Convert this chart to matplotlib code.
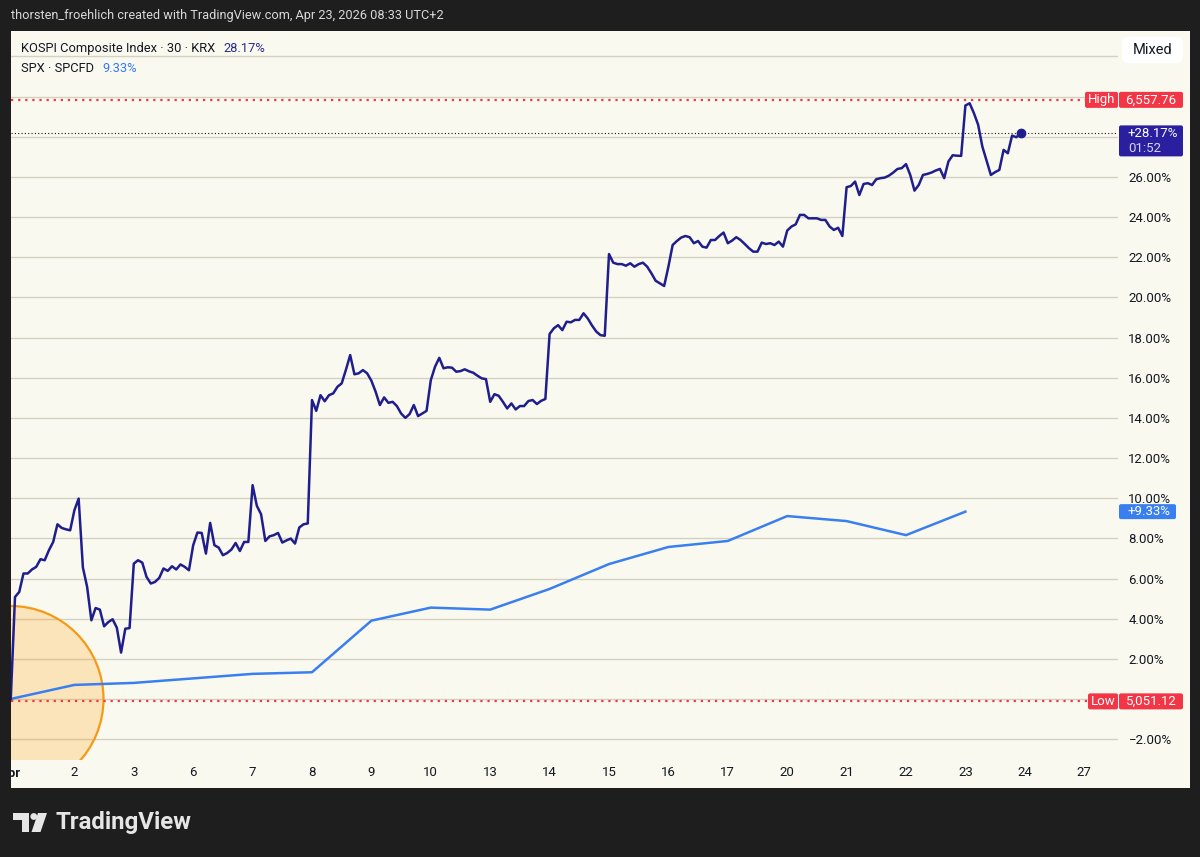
import numpy as np
import matplotlib
matplotlib.use("Agg")
import matplotlib.pyplot as plt
from matplotlib.patches import Rectangle, FancyBboxPatch, Ellipse, Polygon, Circle
from matplotlib.transforms import Bbox, TransformedBbox, offset_copy

W, H = 1200, 857
plt.rcParams['font.family'] = ['Roboto', 'DejaVu Sans']

# ---- data ----
day_labels = ["Apr", "2", "3", "6", "7", "8", "9", "10", "13", "14", "15",
              "16", "17", "20", "21", "22", "23", "24", "27"]
bars_per_day = 14

# KOSPI 30-min closes, % change vs. base (first value = base bar)
kospi_pct = [0.0,
    5.08, 5.33, 6.25, 6.25, 6.45, 6.58, 6.96, 6.91, 7.41, 7.82, 8.70, 8.52, 8.45, 8.40,
    9.40, 9.98, 6.55, 5.58, 3.92, 4.53, 4.45, 3.62, 3.83, 3.97, 3.55, 2.31, 3.50, 3.53,
    6.74, 6.91, 6.79, 6.08, 5.75, 5.83, 6.03, 6.50, 6.38, 6.61, 6.45, 6.70, 6.58, 6.41,
    7.66, 8.29, 8.27, 7.24, 8.77, 7.66, 7.54, 7.16, 7.27, 7.44, 7.77, 7.37, 7.82, 7.82,
    10.65, 9.62, 9.20, 7.87, 8.10, 8.16, 8.27, 7.79, 7.90, 7.99, 7.74, 8.54, 8.70, 8.74,
    14.89, 14.35, 15.13, 14.83, 15.13, 15.22, 15.55, 15.72, 16.40, 17.13, 16.17, 16.22, 16.38, 16.22,
    15.85, 15.30, 14.64, 15.02, 14.75, 14.80, 14.59, 14.22, 14.00, 14.19, 14.64, 14.09, 14.22, 14.35,
    15.88, 16.55, 16.99, 16.47, 16.52, 16.50, 16.30, 16.33, 16.42, 16.32, 16.25, 16.10, 15.97, 15.93,
    14.80, 15.18, 15.10, 14.80, 14.47, 14.72, 14.42, 14.59, 14.59, 14.84, 14.89, 14.69, 14.85, 14.94,
    18.18, 18.46, 18.62, 18.37, 18.79, 18.76, 18.88, 18.88, 19.21, 18.95, 18.60, 18.30, 18.12, 18.09,
    22.16, 21.73, 21.66, 21.66, 21.58, 21.70, 21.53, 21.66, 21.73, 21.53, 21.20, 20.83, 20.70, 20.57,
    21.53, 22.61, 22.81, 22.98, 23.06, 23.00, 22.70, 22.81, 22.53, 22.48, 22.86, 22.86, 23.06, 23.23,
    22.70, 22.83, 23.00, 22.86, 22.66, 22.45, 22.28, 22.28, 22.73, 22.66, 22.70, 22.61, 22.78, 22.53,
    23.33, 23.53, 23.64, 24.11, 24.11, 23.94, 23.94, 23.94, 23.86, 23.86, 23.53, 23.36, 23.47, 23.06,
    25.49, 25.55, 25.77, 25.10, 25.65, 25.69, 25.60, 25.89, 25.94, 25.97, 26.07, 26.22, 26.40, 26.44,
    26.64, 26.10, 25.32, 25.60, 26.10, 26.15, 26.22, 26.32, 26.40, 25.94, 26.77, 27.08, 27.06, 27.05,
    29.56, 29.67, 29.18, 28.60, 27.51, 26.80, 26.10, 26.24, 26.35, 27.35, 27.18, 28.06, 27.98, 28.17,
]
kospi_high_pct = 29.84
kospi_low_pct = -0.12
kospi_high_txt = "6,557.76"
kospi_low_txt = "5,051.12"

# SPX daily closes (day index on the shared axis), % change
spx_day = [-1 / 14, 1, 2, 4, 5, 6, 7, 8, 9, 10, 11, 12, 13, 14, 15, 16]
spx_pct = [0.0, 0.70, 0.80, 1.25, 1.33, 3.90, 4.55, 4.45, 5.48, 6.72,
           7.57, 7.87, 9.11, 8.86, 8.16, 9.33]

kospi_x = (np.arange(len(kospi_pct)) - 1) / bars_per_day

# ---- colours ----
DARK = '#1e1e1e'
CREAM = '#faf9ef'
GRID = '#d3d1c3'
TXT = '#131722'
RED = '#f23645'
NAVY = '#1f1e8c'
NAVY_TAG = '#2a1f9f'
BLUE = '#3a7ff0'

fig = plt.figure(figsize=(12, 8.57), dpi=100, facecolor=DARK)

# background / frame (pixel coordinates)
bg = fig.add_axes([0, 0, 1, 1], zorder=0)
bg.set_xlim(0, W); bg.set_ylim(H, 0); bg.axis('off')
bg.add_patch(Rectangle((11, 31), 1179, 757, fc=CREAM, ec='none'))
bg.text(11, 15, "thorsten_froehlich created with TradingView.com, Apr 23, 2026 08:33 UTC+2",
        color='#d9d9d9', fontsize=9.2, va='center', ha='left')

# TradingView logo
logo_c = '#e6e6e6'
bg.add_patch(Polygon([(13, 813), (29, 813), (29, 832), (22, 832), (22, 820), (13, 820)],
                     closed=True, fc=logo_c, ec='none'))
bg.add_patch(Circle((33.8, 816.5), 3.4, fc=logo_c, ec='none'))
bg.add_patch(Polygon([(38, 813), (47, 813), (40.5, 832), (31.5, 832)],
                     closed=True, fc=logo_c, ec='none'))
bg.text(56, 823, "TradingView", color=logo_c, fontsize=17.3, fontweight='bold',
        va='center', ha='left')

# ---- main chart ----
ax = fig.add_axes([11 / W, 1 - 760 / H, (1118 - 11) / W, (760 - 31) / H], zorder=1)
ax.patch.set_visible(False)
ax.set_xlim(-4 / 59.4, (1118 - 15) / 59.4)
ax.set_ylim(-3.04, 33.27)
for s in ax.spines.values():
    s.set_visible(False)

yt = np.arange(-2, 33, 2)
ylabels = []
for v in yt:
    if v in (0, 28, 30, 32):
        ylabels.append('')
    else:
        ylabels.append(f"{v:.2f}%".replace('-', '\u2212'))
ax.set_yticks(yt)
ax.set_yticklabels(ylabels)
ax.yaxis.tick_right()
ax.tick_params(axis='y', length=0, pad=7.5, labelsize=9.5, labelcolor=TXT)
ax.set_xticks([])
ax.grid(axis='y', color=GRID, lw=1.0)
ax.set_axisbelow(True)

ax.add_patch(Ellipse((-0.076, 0.0), 2 * 93 / 59.4, 2 * 93 / 20.08,
                     fc=(1.0, 0.6, 0.0, 0.22), ec='#f59a16', lw=1.6, zorder=1.5))

ax.axhline(kospi_high_pct, xmax=(1085 - 11) / 1107, color=RED, lw=1.6,
           ls=(0, (1, 2.2)), zorder=2)
ax.axhline(kospi_low_pct, xmax=(1088 - 11) / 1107, color=RED, lw=1.6,
           ls=(0, (1, 2.2)), zorder=2)
ax.axhline(kospi_pct[-1], color=TXT, lw=0.8, ls=(0, (1, 2)), zorder=2)

ax.plot(spx_day, spx_pct, color=BLUE, lw=1.8, zorder=3, solid_joinstyle='round')
ax.plot(kospi_x, kospi_pct, color=NAVY, lw=1.8, zorder=4, solid_joinstyle='round')
ax.plot(kospi_x[-1], kospi_pct[-1], 'o', ms=6, color=NAVY, zorder=5)

panel_bbox = TransformedBbox(Bbox.from_extents(11 / W, 1 - 788 / H, 1190 / W, 1 - 31 / H),
                             fig.transFigure)
xlab_tr = ax.get_xaxis_transform()
for i, lab in enumerate(day_labels):
    tr = xlab_tr
    if i == 0:
        tr = offset_copy(xlab_tr, fig=fig, x=-4, y=0, units='dots')
    t = ax.text(i, -13 / 729, lab, transform=tr, ha='center',
                va='center', fontsize=9.5, color=TXT,
                fontweight='bold' if i == 0 else 'normal')
    t.set_clip_path(None)
    t.set_clip_box(panel_bbox)
    t.set_clip_on(True)

# ---- overlay: legend, tags, button ----
ov = fig.add_axes([0, 0, 1, 1], zorder=6)
ov.set_xlim(0, W); ov.set_ylim(H, 0); ov.axis('off')


def ypix(v):
    return H - ax.transData.transform((0, v))[1]


def tag(x0, x1, y0, y1, color):
    ov.add_patch(FancyBboxPatch((x0, y0), x1 - x0, y1 - y0,
                                boxstyle='round,pad=0,rounding_size=2',
                                fc=color, ec='none'))


yh = ypix(kospi_high_pct)
tag(1085, 1118, yh - 8, yh + 8, RED)
tag(1119, 1183, yh - 8, yh + 8, RED)
ov.text(1101.5, yh, "High", color='white', fontsize=9.5, ha='center', va='center')
ov.text(1151, yh, kospi_high_txt, color='white', fontsize=9.5, ha='center', va='center')

yl = ypix(kospi_low_pct)
tag(1088, 1118, yl - 8, yl + 8, RED)
tag(1119, 1183, yl - 8, yl + 8, RED)
ov.text(1103, yl, "Low", color='white', fontsize=9.5, ha='center', va='center')
ov.text(1151, yl, kospi_low_txt, color='white', fontsize=9.5, ha='center', va='center')

yc = ypix(kospi_pct[-1])
tag(1119, 1183, yc - 8, yc + 23, NAVY_TAG)
ov.text(1128, yc, f"+{kospi_pct[-1]:.2f}%", color='white', fontsize=9.5, ha='left', va='center')
ov.text(1128, yc + 15, "01:52", color='#d6d4f2', fontsize=9.5, ha='left', va='center')

ys = ypix(spx_pct[-1])
tag(1119, 1176, ys - 7.5, ys + 7.5, BLUE)
ov.text(1128, ys, f"+{spx_pct[-1]:.2f}%", color='white', fontsize=9.5, ha='left', va='center')

ov.add_patch(FancyBboxPatch((1122, 37), 61, 26, boxstyle='round,pad=0,rounding_size=6',
                            fc='white', ec='none'))
ov.text(1152.5, 50, "Mixed", color=TXT, fontsize=10.5, ha='center', va='center')

k_lab = ov.text(21, 48, "KOSPI Composite Index \u00b7 30 \u00b7 KRX", color=TXT, fontsize=9.3,
                ha='left', va='center')
ov.annotate(f"{kospi_pct[-1]:.2f}%", xy=(1, 0.5), xycoords=k_lab, xytext=(8, 0),
            textcoords='offset pixels', color='#2a2a8f', fontsize=9.3, ha='left', va='center')
s_lab = ov.text(21, 68, "SPX \u00b7 SPCFD", color=TXT, fontsize=9.3, ha='left', va='center')
ov.annotate(f"{spx_pct[-1]:.2f}%", xy=(1, 0.5), xycoords=s_lab, xytext=(8, 0),
            textcoords='offset pixels', color='#3179f5', fontsize=9.3, ha='left', va='center')

fig.savefig("out.png", dpi=100, facecolor=DARK)
